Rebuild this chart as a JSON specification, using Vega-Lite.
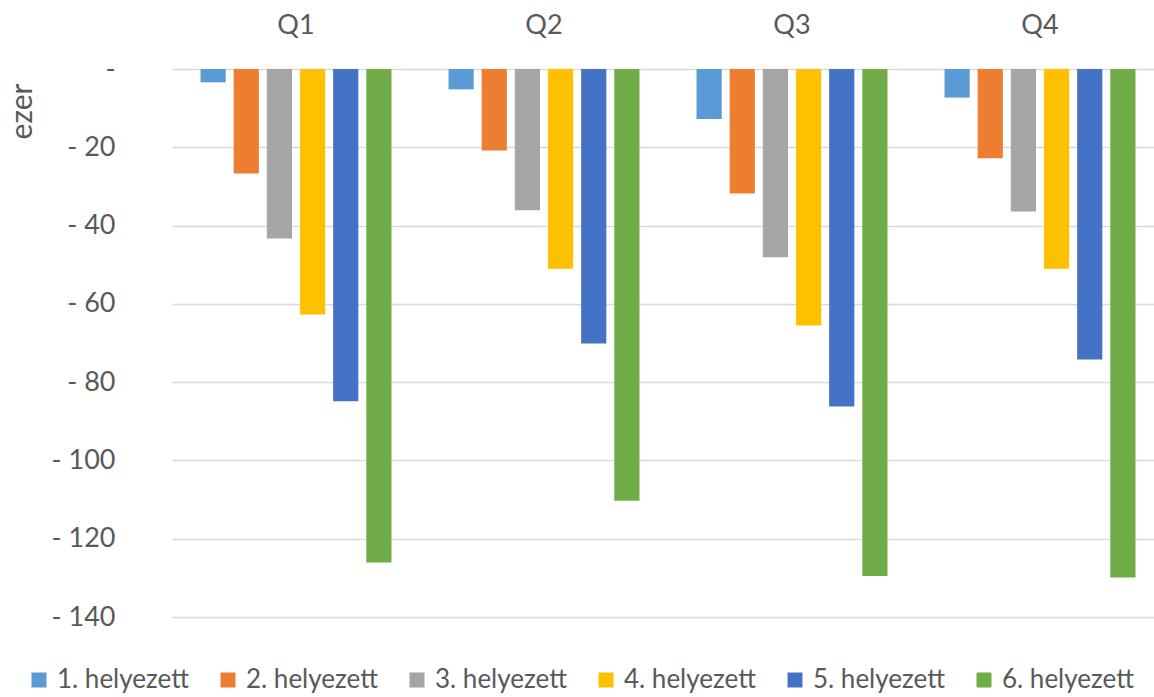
{
  "$schema": "https://vega.github.io/schema/vega-lite/v6.json",
  "autosize": {"type": "none"},
  "padding": {"left": 172, "top": 69, "right": 0, "bottom": 80},
  "width": 982,
  "height": 548,
  "background": "white",
  "config": {
    "view": {"stroke": null},
    "font": "Lato",
    "axis": {"labelFont": "Lato", "labelColor": "#595959", "titleColor": "#595959", "titleFont": "Lato"},
    "legend": {"labelFont": "Lato", "labelColor": "#595959"}
  },
  "data": {
    "values": [
      {"q": "Q1", "s": "1. helyezett", "v": -3.4},
      {"q": "Q1", "s": "2. helyezett", "v": -26.7},
      {"q": "Q1", "s": "3. helyezett", "v": -43.3},
      {"q": "Q1", "s": "4. helyezett", "v": -62.7},
      {"q": "Q1", "s": "5. helyezett", "v": -84.9},
      {"q": "Q1", "s": "6. helyezett", "v": -126.1},
      {"q": "Q2", "s": "1. helyezett", "v": -5.2},
      {"q": "Q2", "s": "2. helyezett", "v": -20.8},
      {"q": "Q2", "s": "3. helyezett", "v": -36.1},
      {"q": "Q2", "s": "4. helyezett", "v": -51.0},
      {"q": "Q2", "s": "5. helyezett", "v": -70.1},
      {"q": "Q2", "s": "6. helyezett", "v": -110.3},
      {"q": "Q3", "s": "1. helyezett", "v": -12.8},
      {"q": "Q3", "s": "2. helyezett", "v": -31.8},
      {"q": "Q3", "s": "3. helyezett", "v": -48.1},
      {"q": "Q3", "s": "4. helyezett", "v": -65.5},
      {"q": "Q3", "s": "5. helyezett", "v": -86.2},
      {"q": "Q3", "s": "6. helyezett", "v": -129.5},
      {"q": "Q4", "s": "1. helyezett", "v": -7.3},
      {"q": "Q4", "s": "2. helyezett", "v": -22.8},
      {"q": "Q4", "s": "3. helyezett", "v": -36.4},
      {"q": "Q4", "s": "4. helyezett", "v": -51.0},
      {"q": "Q4", "s": "5. helyezett", "v": -74.2},
      {"q": "Q4", "s": "6. helyezett", "v": -129.9}
    ]
  },
  "mark": {"type": "bar"},
  "encoding": {
    "x": {
      "field": "q", "type": "nominal",
      "scale": {"range": [0, 992], "paddingInner": 0.23, "paddingOuter": 0.115},
      "axis": {"orient": "top", "title": null, "domain": false, "ticks": false, "labelAngle": 0, "labelFontSize": 27, "labelPadding": 30}
    },
    "xOffset": {"field": "s", "type": "nominal", "scale": {"paddingInner": 0.24}},
    "y": {
      "field": "v", "type": "quantitative",
      "scale": {"domain": [-140, 0], "nice": false},
      "axis": {
        "title": "ezer", "titleFontSize": 30, "titleFontWeight": "normal", "titleAnchor": "end", "titleAlign": "right",
        "titleX": -150, "titleY": 14, "titleAngle": -90, "titleBaseline": "middle",
        "values": [-140, -120, -100, -80, -60, -40, -20, 0],
        "labelExpr": "datum.value == 0 ? '-' : '- ' + abs(datum.value)",
        "labelFontSize": 27, "labelPadding": 57, "ticks": false, "domain": false,
        "gridColor": "#D9D9D9", "gridWidth": 1.5
      }
    },
    "color": {
      "field": "s", "type": "nominal",
      "scale": {"range": ["#5B9BD5", "#ED7D31", "#A5A5A5", "#FFC000", "#4472C4", "#70AD47"]},
      "legend": {
        "title": null, "orient": "none", "direction": "horizontal",
        "legendX": -146, "legendY": 598,
        "symbolType": "square", "symbolSize": 225, "symbolStrokeWidth": 0, "symbolOpacity": 1,
        "labelFontSize": 26, "labelOffset": 5, "columnPadding": 26
      }
    }
  }
}
